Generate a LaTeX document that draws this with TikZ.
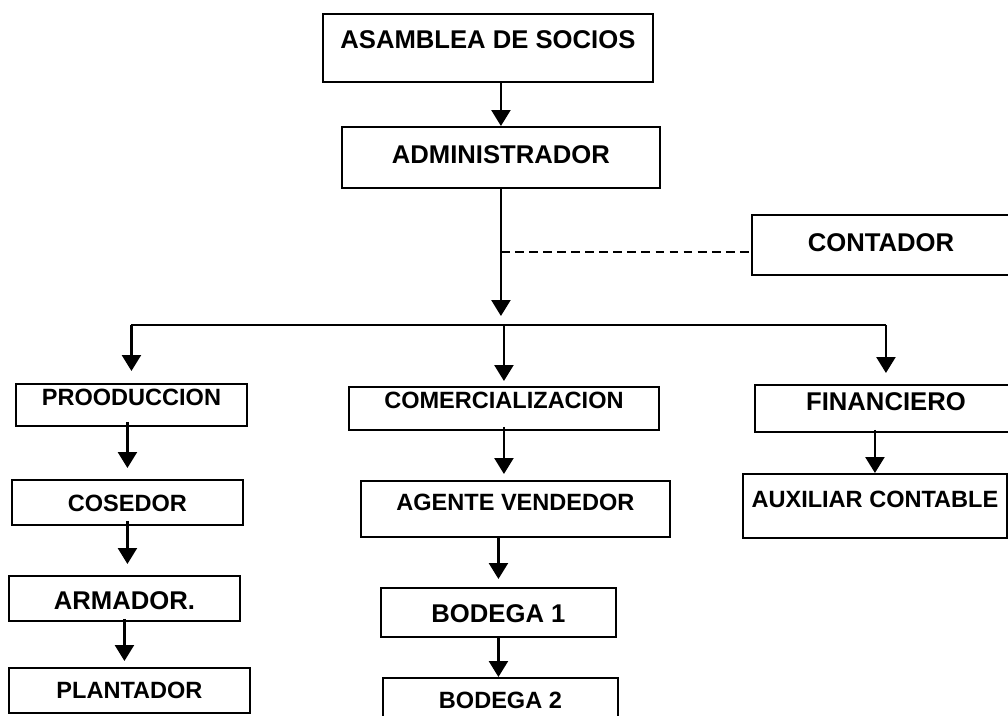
\documentclass[tikz,border=0pt]{standalone}
\usepackage{fontspec}
\setmainfont{Liberation Sans}
\usetikzlibrary{arrows.meta,calc}

\begin{document}
\begin{tikzpicture}[
    x=0.02cm, y=-0.02cm,
    >={Triangle[width=0.38cm,length=0.32cm]},
    box/.style={draw, line width=1.1pt, inner sep=0pt, anchor=north west, font=\bfseries},
    bigtxt/.style={font=\fontsize{14.6}{16}\selectfont\bfseries},
    smalltxt/.style={font=\fontsize{13.4}{15}\selectfont\bfseries},
    arr/.style={line width=1.4pt,->}
]

\useasboundingbox (0,0) rectangle (1008,716);

% ===== Top =====
\node[box, bigtxt, minimum width=6.60cm, text height=0.70cm, text depth=0.66cm]
    (asamblea) at (322,13) {ASAMBLEA DE SOCIOS};

\node[box, bigtxt, minimum width=6.36cm, text height=0.74cm, text depth=0.48cm]
    (admin) at (341,126) {ADMINISTRADOR};

\node[box, bigtxt, minimum width=5.16cm, text height=0.74cm, text depth=0.46cm]
    (contador) at (751,214) {CONTADOR};

\draw[arr] (admin.north |- asamblea.south) -- (admin.north);

% bus line
\coordinate (bus) at (500,325);

\draw[arr, shorten >=0.18cm] (admin.south) -- (admin.south |- bus);
\draw[dashed, line width=0.7pt, dash pattern=on 5pt off 3pt]
    (contador.base west -| admin.south) -- (contador.base west);

% ===== Production =====
\node[box, smalltxt, minimum width=4.62cm, text height=0.44cm, text depth=0.40cm]
    (produccion) at (15,383) {PROODUCCION};
\node[box, smalltxt, minimum width=4.62cm, text height=0.64cm, text depth=0.26cm]
    (cosedor) at (11,479) {COSEDOR};
\node[box, bigtxt, minimum width=4.62cm, text height=0.68cm, text depth=0.22cm]
    (armador) at (8,575) {ARMADOR.};
\node[box, smalltxt, minimum width=4.82cm, text height=0.62cm, text depth=0.28cm]
    (plantador) at (8,667) {PLANTADOR};

% ===== Commercial =====
\node[box, smalltxt, minimum width=6.20cm, text height=0.44cm, text depth=0.42cm]
    (comercial) at (348,386) {COMERCIALIZACION};
\node[box, smalltxt, minimum width=6.18cm, text height=0.60cm, text depth=0.52cm]
    (agente) at (360,480) {AGENTE VENDEDOR};
\node[box, bigtxt, minimum width=4.70cm, text height=0.70cm, text depth=0.28cm]
    (bodegaA) at (380,587) {BODEGA 1};
\node[box, smalltxt, minimum width=4.70cm, text height=0.62cm, text depth=0.44cm]
    (bodegaB) at (382,677) {BODEGA 2};

% ===== Finance =====
\node[box, bigtxt, minimum width=5.24cm, text height=0.52cm, text depth=0.42cm]
    (financiero) at (754,384) {FINANCIERO};
\node[box, smalltxt, minimum width=5.28cm, text height=0.68cm, text depth=0.60cm]
    (auxiliar) at (742,473) {AUXILIAR CONTABLE};

% ===== Branches =====
\draw[line width=1pt] (produccion.north |- bus) -- (financiero.north |- bus);

\draw[arr, shorten >=0.24cm] (produccion.north |- bus) -- (produccion.north);
\draw[arr, shorten >=0.10cm] (comercial.north |- bus) -- (comercial.north);
\draw[arr, shorten >=0.22cm] (financiero.north |- bus) -- (financiero.north);

% chains
\draw[arr, shorten >=0.22cm] ([yshift=0.1cm]cosedor.north |- produccion.south) -- (cosedor.north);
\draw[arr, shorten >=0.22cm] ([yshift=0.1cm]cosedor.south) -- (cosedor.south |- armador.north);
\draw[arr, shorten >=0.12cm] ([yshift=0.06cm]armador.south) -- (armador.south |- plantador.north);

\draw[arr, shorten >=0.12cm] ([yshift=0.08cm]comercial.south) -- (comercial.south |- agente.north);
\draw[arr, shorten >=0.16cm] (bodegaA.north |- agente.south) -- (bodegaA.north);
\draw[arr] (bodegaA.south) -- (bodegaA.south |- bodegaB.north);

\draw[arr] ([yshift=0.06cm]auxiliar.north |- financiero.south) -- (auxiliar.north);

\end{tikzpicture}
\end{document}
